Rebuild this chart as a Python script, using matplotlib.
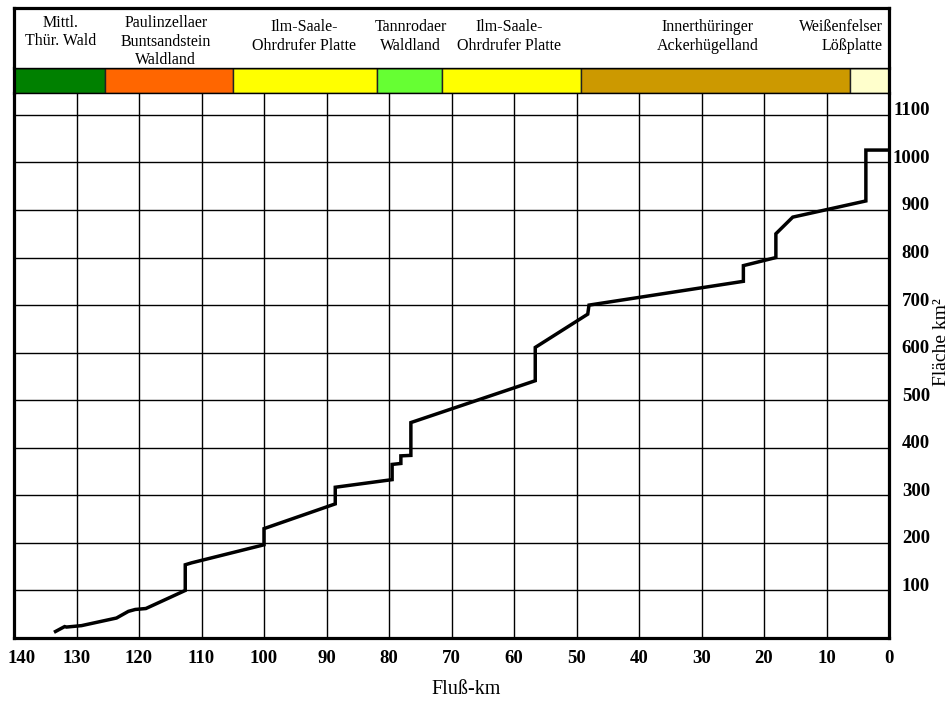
import matplotlib
matplotlib.use("Agg")
import matplotlib.pyplot as plt
from matplotlib.transforms import ScaledTranslation

plt.rcParams['font.family'] = ['Liberation Serif', 'DejaVu Serif']

# ---- data -------------------------------------------------------------
river_km = [133.6, 131.9, 131.6, 129.2, 123.6, 121.7, 120.6, 118.9, 112.6, 112.6,
            111.6, 100.0, 100.0, 88.6, 88.6, 79.5, 79.5, 78.1, 78.1, 76.5,
            76.5, 56.6, 56.6, 48.2, 48.0, 23.3, 23.3, 18.1, 18.1, 15.4,
            3.7, 3.7, 0.0]
area_km2 = [12, 24, 23, 26, 42, 56, 60, 62, 100, 154,
            158, 196, 230, 282, 317, 333, 365, 367, 383, 384,
            453, 541, 611, 681, 700, 750, 783, 800, 850, 885,
            919, 1026, 1026]

region_names = ["Mittl.\nThür. Wald", "Paulinzellaer\nBuntsandstein\nWaldland",
                "Ilm-Saale-\nOhrdrufer Platte", "Tannrodaer\nWaldland",
                "Ilm-Saale-\nOhrdrufer Platte", "Innerthüringer\nAckerhügelland",
                "Weißenfelser\nLößplatte"]
region_edges_km = [140, 125.5, 105, 82, 71.5, 49.3, 6.3, 0]
region_colors = ["#008000", "#FF6600", "#FFFF00", "#66FF33", "#FFFF00", "#CC9900", "#FFFFCC"]
region_label_km = [132.6, 115.7, 93.6, 76.5, 60.8, 29.0, 1.0]
region_label_y = [32, 41.5, 36.5, 36.5, 36.5, 36.5, 36.5]
region_label_ha = ["center", "center", "center", "center", "center", "center", "right"]

x_ticks = list(range(140, -1, -10))
y_ticks = list(range(100, 1101, 100))

# ---- figure -----------------------------------------------------------
W, H = 951, 701
fig = plt.figure(figsize=(W / 100, H / 100), dpi=100)


def rect(x0, y0, x1, y1):
    return [x0 / W, 1 - y1 / H, (x1 - x0) / W, (y1 - y0) / H]


ax = fig.add_axes(rect(14, 93, 889, 638))
ax_bar = fig.add_axes(rect(14, 68, 889, 93))
ax_head = fig.add_axes(rect(14, 8, 889, 68))

thick = 2.3
thin = 1.0

# main plot
ax.plot(river_km, area_km2, color="black", lw=2.5, solid_joinstyle="miter",
        solid_capstyle="butt", zorder=3)
ax.set_xlim(140, 0)
ax.set_ylim(0, 1146)
ax.set_xticks(x_ticks)
ax.set_xticklabels([str(v) for v in x_ticks], fontsize=13.5, fontweight="bold")
ax.yaxis.tick_right()
ax.set_yticks(y_ticks)
ax.set_yticklabels([str(v) for v in y_ticks], fontsize=13.5, fontweight="bold", ha="right")
ax.tick_params(axis="x", length=0, pad=8.5)
ax.tick_params(axis="y", length=0, pad=29.5)
ax.grid(True, color="black", lw=1.0)
ax.set_axisbelow(True)
ax.spines["top"].set_visible(False)
for s in ("left", "bottom", "right"):
    ax.spines[s].set_linewidth(thick)
    ax.spines[s].set_zorder(4)

# colour band
widths = [region_edges_km[i] - region_edges_km[i + 1] for i in range(len(region_colors))]
lefts = region_edges_km[1:]
ax_bar.barh([0] * len(region_colors), widths, left=lefts, height=1.0,
            color=region_colors, edgecolor="#222222", linewidth=1.0)
ax_bar.set_xlim(140, 0)
ax_bar.set_ylim(-0.5, 0.5)
ax_bar.set_xticks([])
ax_bar.set_yticks([])
for s in ("left", "right"):
    ax_bar.spines[s].set_linewidth(thick)
for s in ("top", "bottom"):
    ax_bar.spines[s].set_linewidth(thin)

# header with region names
ax_head.set_xlim(140, 0)
ax_head.set_ylim(68, 8)
ax_head.set_xticks([])
ax_head.set_yticks([])
for s in ("left", "right", "top"):
    ax_head.spines[s].set_linewidth(thick)
ax_head.spines["bottom"].set_linewidth(thin)
for name, xk, yp, ha in zip(region_names, region_label_km, region_label_y, region_label_ha):
    ax_head.text(xk, yp, name, ha=ha, va="center", multialignment=ha,
                 fontsize=11.5, linespacing=1.2)

# axis titles
fig.text(466 / W, 1 - 690 / H, "Fluß-km", ha="center", va="center", fontsize=14.5)
fig.text(942 / W, 1 - 342 / H, "Fläche km²", ha="center", va="center",
         rotation=90, fontsize=14)

# small label offsets as in the original
xt = ax.xaxis.get_major_ticks()
xt[0].label1.set_transform(xt[0].label1.get_transform()
                           + ScaledTranslation(8 / 100, 0, fig.dpi_scale_trans))
for t in ax.yaxis.get_major_ticks():
    t.label2.set_transform(t.label2.get_transform()
                           + ScaledTranslation(0, 6 / 100, fig.dpi_scale_trans))

fig.savefig("out.png", dpi=100)
